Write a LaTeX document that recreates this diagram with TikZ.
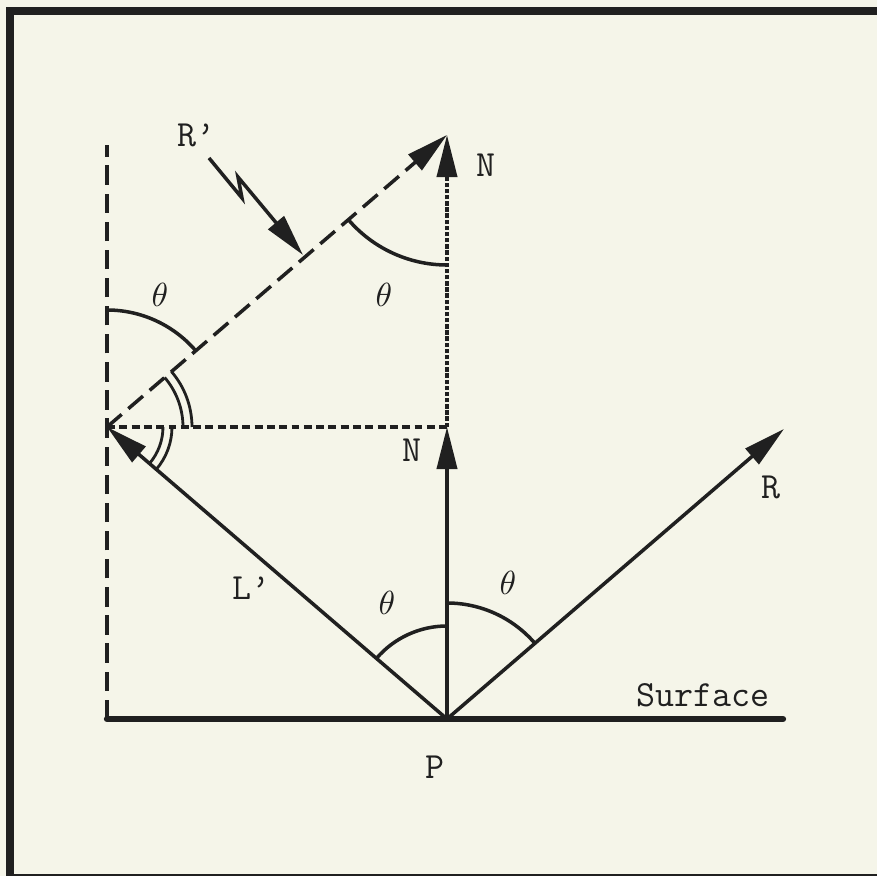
\documentclass[tikz,border=0pt]{standalone}
\usetikzlibrary{arrows.meta}
\definecolor{paper}{RGB}{245,245,233}
\definecolor{ink}{RGB}{32,32,32}
\newcommand{\thang}{\scalebox{1.9}{$\theta$}}

\begin{document}
\begin{tikzpicture}[
    line width=2pt, ink,
    vec/.style={-{Triangle[length=24pt,width=11.5pt]}},
    lbl/.style={font=\fontsize{21}{24}\selectfont\ttfamily, text=ink},
    ang/.style={text=ink},
    longdash/.style={dash pattern=on 11pt off 5pt},
    shortdash/.style={dash pattern=on 4.5pt off 2.5pt},
    tinydash/.style={dash pattern=on 2.5pt off 1pt}
  ]
  \useasboundingbox[fill=paper] (-8.94,-3.14) rectangle (8.6,14.38);
  \draw[line width=4.5pt] (-8.74,-3.17) rectangle (8.9,14.16);

  \coordinate (P) at (0,0);
  \coordinate (Lp) at (-6.8,5.84);
  \coordinate (Rt) at (6.74,5.8);
  \coordinate (N1) at (0,5.84);
  \coordinate (N2) at (0,11.68);
  \coordinate (Base) at (-6.8,0);
  \coordinate (Top) at (-6.8,11.48);
  \coordinate (SurfEnd) at (6.72,0);
  \coordinate (Bolt) at (-4.76,11.22);
  \coordinate (Hit) at (-2.88,9.28);

  % surface and guide lines
  \draw[line width=3.6pt, line cap=round] (Base) -- (SurfEnd);
  \draw[longdash] (Base) -- (Top);
  \draw[shortdash] (Lp) -- (N1);
  \draw[tinydash, vec] (N1) -- (N2);
  \draw[longdash, vec] (Lp) -- (N2);

  % vectors from P
  \draw[vec] (P) -- (N1);
  \draw[vec] (P) -- (Lp);
  \draw[vec] (P) -- (Rt);

  % zigzag pointer
  \draw[vec] (Bolt) -- (-4.10,10.42) -- (-4.18,10.84) -- (Hit);

  % angles
  \draw ([shift={(90:1.86)}]P) arc[start angle=90, end angle=139.35, radius=1.86];
  \draw ([shift={(90:2.32)}]P) arc[start angle=90, end angle=40.65, radius=2.32];
  \draw ([shift={(270:2.6)}]N2) arc[start angle=270, end angle=220.65, radius=2.6];
  \draw ([shift={(90:2.34)}]Lp) arc[start angle=90, end angle=40.65, radius=2.34];
  \foreach \r in {1.52,1.70}
    \draw[line width=1.6pt] ([shift={(0:\r)}]Lp) arc[start angle=0, end angle=40.65, radius=\r];
  \foreach \r in {1.12,1.30}
    \draw[line width=1.6pt] ([shift={(0:\r)}]Lp) arc[start angle=0, end angle=-40.65, radius=\r];

  % labels
  \node[lbl] (lRp) at (-5.0,11.68) {R’};
  \node[lbl] (lN2) at (0.78,11.08) {N};
  \node[lbl] (lN1) at (-0.70,5.38) {N};
  \node[lbl] (lR) at (6.48,4.64) {R};
  \node[lbl] (lL) at (-3.9,2.62) {L’};
  \node[lbl] (lP) at (-0.24,-0.96) {P};
  \node[lbl, anchor=base east] (lS) at (6.6,0.24) {Surface};

  \node[ang] (t1) at (-5.74,8.48) {\thang};
  \node[ang] (t2) at (-1.26,8.48) {\thang};
  \node[ang] (t3) at (-1.2,2.32) {\thang};
  \node[ang] (t4) at (1.22,2.72) {\thang};
\end{tikzpicture}
\end{document}
